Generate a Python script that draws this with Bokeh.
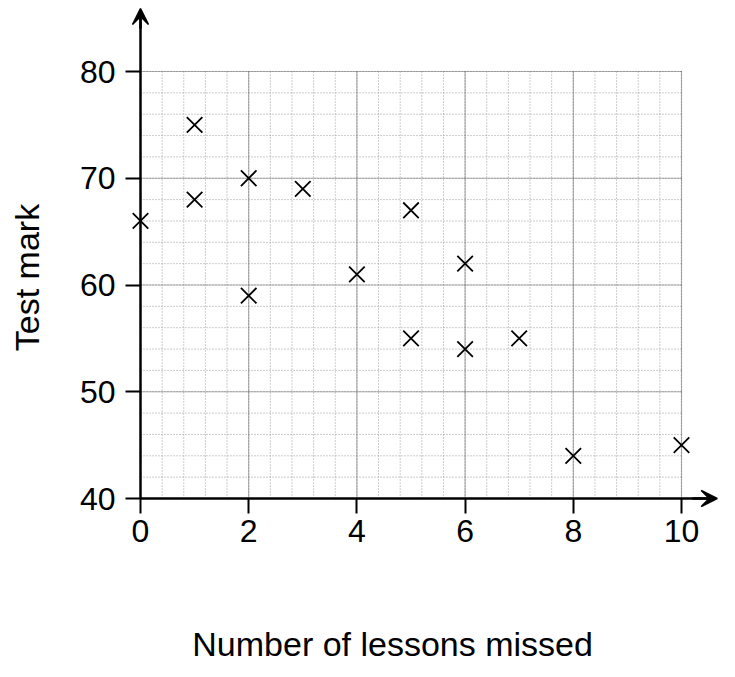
import numpy as np
from bokeh.plotting import figure
from bokeh.models import Range1d, FixedTicker, Arrow, VeeHead, Label, ColumnDataSource
from bokeh.embed import file_html
from bokeh.resources import INLINE

# ---- data ----
lessons_missed = [0, 1, 1, 2, 2, 3, 4, 5, 5, 6, 6, 7, 8, 10]
test_mark = [66, 75, 68, 70, 59, 69, 61, 67, 55, 62, 54, 55, 44, 45]
x_ticks = [0, 2, 4, 6, 8, 10]
y_ticks = [40, 50, 60, 70, 80]
x_title = "Number of lessons missed"
y_title = "Test mark"

FONT = "Liberation Sans"
PX_X = 54.1     # pixels per lesson
PX_Y = 10.675   # pixels per mark
W, H = 719, 661
X0_PX, Y0_PX = 140, 498   # canvas position of the origin (0, 40)

p = figure(width=W, height=H, output_backend="svg", toolbar_location=None,
           x_range=Range1d(-X0_PX / PX_X, (W - X0_PX) / PX_X),
           y_range=Range1d(40 - (H - Y0_PX) / PX_Y, 40 + Y0_PX / PX_Y),
           min_border_left=0, min_border_right=0, min_border_top=0, min_border_bottom=0)
p.outline_line_color = None
p.xgrid.visible = False
p.ygrid.visible = False
p.background_fill_color = "white"

# graph-paper grid (within x 0..10, y 40..80)
gx = np.round(np.arange(0, 10.0001, 0.4), 3)
gy = np.arange(40, 80.0001, 2)
p.segment(x0=gx, y0=[40] * len(gx), x1=gx, y1=[80] * len(gx),
          line_color="#9a9a9a", line_width=1, line_dash="1 2")
p.segment(x0=[0] * len(gy), y0=gy, x1=[10] * len(gy), y1=gy,
          line_color="#9a9a9a", line_width=1, line_dash="1 2")
mx = [x for x in x_ticks if x > 0]
my = y_ticks[1:]
p.segment(x0=mx, y0=[40] * len(mx), x1=mx, y1=[80] * len(mx),
          line_color="#666666", line_width=1.2, line_dash="1 1")
p.segment(x0=[0] * len(my), y0=my, x1=[10] * len(my), y1=my,
          line_color="#666666", line_width=1.2, line_dash="1 1")

# data points
src = ColumnDataSource(dict(x=lessons_missed, y=test_mark))
p.scatter("x", "y", source=src, marker="x", size=22, line_color="black", line_width=1.8)

# axes, pinned at the origin
for ax in (p.xaxis, p.yaxis):
    ax.axis_line_color = "black"
    ax.axis_line_width = 2.5
    ax.major_tick_line_color = "black"
    ax.major_tick_line_width = 2
    ax.major_tick_out = 15
    ax.major_tick_in = 0
    ax.minor_tick_line_color = None
    ax.major_label_text_font = FONT
    ax.major_label_text_font_size = "32px"
    ax.major_label_text_color = "black"
p.xaxis.ticker = FixedTicker(ticks=x_ticks)
p.yaxis.ticker = FixedTicker(ticks=y_ticks)
p.xaxis.fixed_location = 40
p.yaxis.fixed_location = 0
p.xaxis.bounds = (0, 10.5)
p.yaxis.bounds = (40, 85.5)
p.xaxis.major_label_standoff = 6
p.yaxis.major_label_standoff = 10

# arrow heads
p.add_layout(Arrow(end=VeeHead(size=16, fill_color="black", line_color="black", line_width=1.5),
                   x_start=0, y_start=84, x_end=0, y_end=85.9,
                   line_color="black", line_width=2.5))
p.add_layout(Arrow(end=VeeHead(size=16, fill_color="black", line_color="black", line_width=1.5),
                   x_start=10.2, y_start=40, x_end=10.66, y_end=40,
                   line_color="black", line_width=2.5))

# axis titles
p.add_layout(Label(x=4.66, y=40 - (643 - Y0_PX) / PX_Y, text=x_title, text_align="center",
                   text_baseline="alphabetic", text_font=FONT, text_font_size="34px",
                   text_color="black"))
p.add_layout(Label(x=(26 - X0_PX) / PX_X, y=60.7, text=y_title, angle=np.pi / 2,
                   text_align="center", text_baseline="alphabetic", text_font=FONT,
                   text_font_size="34px", text_color="black"))

open("out.html", "w").write(file_html(p, INLINE))
